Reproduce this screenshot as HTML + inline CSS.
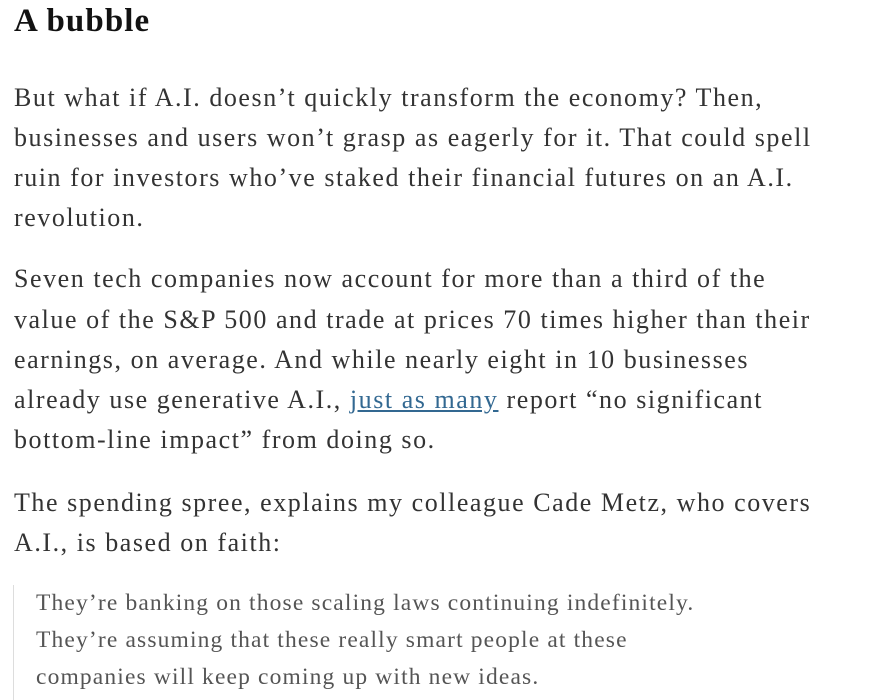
<!DOCTYPE html>
<html><head><meta charset="utf-8"><style>
body{margin:0;background:#fff;width:876px;height:700px;overflow:hidden;font-family:"Liberation Serif",serif;color:#333;}
h2{position:absolute;left:14px;top:3px;margin:0;font-size:33px;font-weight:bold;color:#121212;letter-spacing:1.1px;}
.l{position:absolute;left:14px;white-space:nowrap;font-size:26px;letter-spacing:1.55px;line-height:40px;}
.q{position:absolute;left:36px;white-space:nowrap;font-size:23.5px;letter-spacing:1.15px;color:#555;line-height:37px;}
a{color:#326891;text-decoration:underline;}
.bar{position:absolute;left:13px;top:585px;width:1px;height:115px;background:#ddd;}
</style></head><body>
<h2>A bubble</h2>
<div class="l" style="top:78px">But what if A.I. doesn’t quickly transform the economy? Then,</div>
<div class="l" style="top:118px">businesses and users won’t grasp as eagerly for it. That could spell</div>
<div class="l" style="top:158px">ruin for investors who’ve staked their financial futures on an A.I.</div>
<div class="l" style="top:198px">revolution.</div>
<div class="l" style="top:259px">Seven tech companies now account for more than a third of the</div>
<div class="l" style="top:300px">value of the S&amp;P 500 and trade at prices 70 times higher than their</div>
<div class="l" style="top:340px">earnings, on average. And while nearly eight in 10 businesses</div>
<div class="l" style="top:380px">already use generative A.I., <a>just as many</a> report “no significant</div>
<div class="l" style="top:420px">bottom-line impact” from doing so.</div>
<div class="l" style="top:483px">The spending spree, explains my colleague Cade Metz, who covers</div>
<div class="l" style="top:523px">A.I., is based on faith:</div>
<div class="bar"></div>
<div class="q" style="top:585px">They’re banking on those scaling laws continuing indefinitely.</div>
<div class="q" style="top:622px">They’re assuming that these really smart people at these</div>
<div class="q" style="top:659px">companies will keep coming up with new ideas.</div>
</body></html>
